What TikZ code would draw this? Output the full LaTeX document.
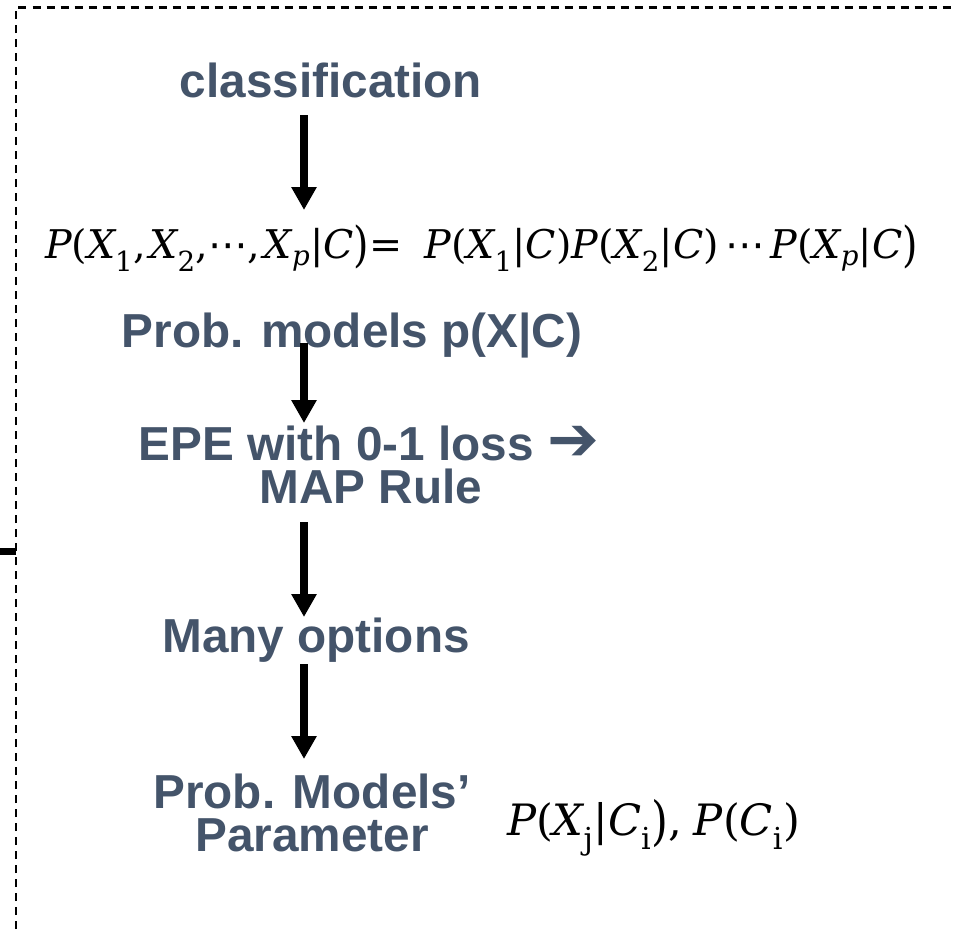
\documentclass[tikz,border=0pt]{standalone}
\usepackage{amsmath}
\usepackage{fontspec}
\setmainfont{Liberation Sans}
\newfontfamily\arrowfont{DejaVu Sans}
\newfontfamily\mathserif{DejaVu Serif}
\usetikzlibrary{arrows.meta}
\definecolor{slate}{HTML}{44546A}
% italic and upright letters for the formulas
\newcommand{\iv}[1]{\text{\mathserif\itshape #1}}
\newcommand{\rv}[1]{\text{\mathserif #1}}
% centred ellipsis
\newcommand{\dts}{\text{\arrowfont\char"22EF}}
% taller closing parenthesis
\newcommand{\bp}{\text{\mathserif\raisebox{-0.1em}{\scalebox{1}[1.22]{)}}}}
\begin{document}
\begin{tikzpicture}[x=1pt,y=-1pt,
  label/.style={font=\fontsize{47.7}{50}\selectfont\bfseries, text=slate, inner sep=0pt, anchor=base},
  formula/.style={font=\fontsize{45}{45}\selectfont, inner sep=0pt, anchor=base},
  flow/.style={line width=7.5pt, -{Triangle[width=24pt,length=23pt]}},
  frame/.style={line width=2.5pt, dash pattern=on 8pt off 6pt}]
\useasboundingbox (0,0) rectangle (953,929);

% dashed frame (top and left edges) and the small tick on the left
\draw[frame] (16,929) -- (16,7.5) -- (953,7.5);
\fill (0,548) rectangle (16,555);

% labels
\node[label] (cls) at (331,97) {classification};
\node[formula] (eq) at (481.5,258) {\resizebox{873pt}{!}{$\iv{P}\rv{(}\iv{X}_{\rv{1}}\rv{,}\,\iv{X}_{\rv{2}}\rv{,}\dts\rv{,}\,\iv{X}_{\iv{p}}\rv{|}\iv{C}\bp\rv{=}\ \ \iv{P}\rv{(}\iv{X}_{\rv{1}}\rv{|}\iv{C}\rv{)}\iv{P}\rv{(}\iv{X}_{\rv{2}}\rv{|}\iv{C}\rv{)}\;\dts\;\iv{P}\rv{(}\iv{X}_{\iv{p}}\rv{|}\iv{C}\bp$}};
\node[label] (pm) at (352,347) {Prob. models p(X|C)};
\node[label] (epe) at (369,460) {EPE with 0-1 loss {\arrowfont\scalebox{1.3}{\char"2794}}};
\node[label] (map) at (371,503) {MAP Rule};
\node[label] (opt) at (316,652) {Many options};
\node[label] (pmp1) at (312,808) {Prob. Models’};
\node[label] (pmp2) at (312,851) {Parameter};
\node[formula] (par) at (653.5,835) {\resizebox{293pt}{!}{$\iv{P}\rv{(}\iv{X}_{\rv{j}}\rv{|}\iv{C}_{\rv{i}}\bp\rv{,}\ \iv{P}\rv{(}\iv{C}_{\rv{i}}\rv{)}$}};

% flow arrows
\coordinate (a1s) at (304,115); \coordinate (a1e) at (304,210);
\coordinate (a2s) at (304,343); \coordinate (a2e) at (304,423);
\coordinate (a3s) at (304,522); \coordinate (a3e) at (304,617);
\coordinate (a4s) at (304,664); \coordinate (a4e) at (304,759);
\draw[flow] (a1s) -- (a1e);
\draw[flow] (a2s) -- (a2e);
\draw[flow] (a3s) -- (a3e);
\draw[flow] (a4s) -- (a4e);
\end{tikzpicture}
\end{document}
